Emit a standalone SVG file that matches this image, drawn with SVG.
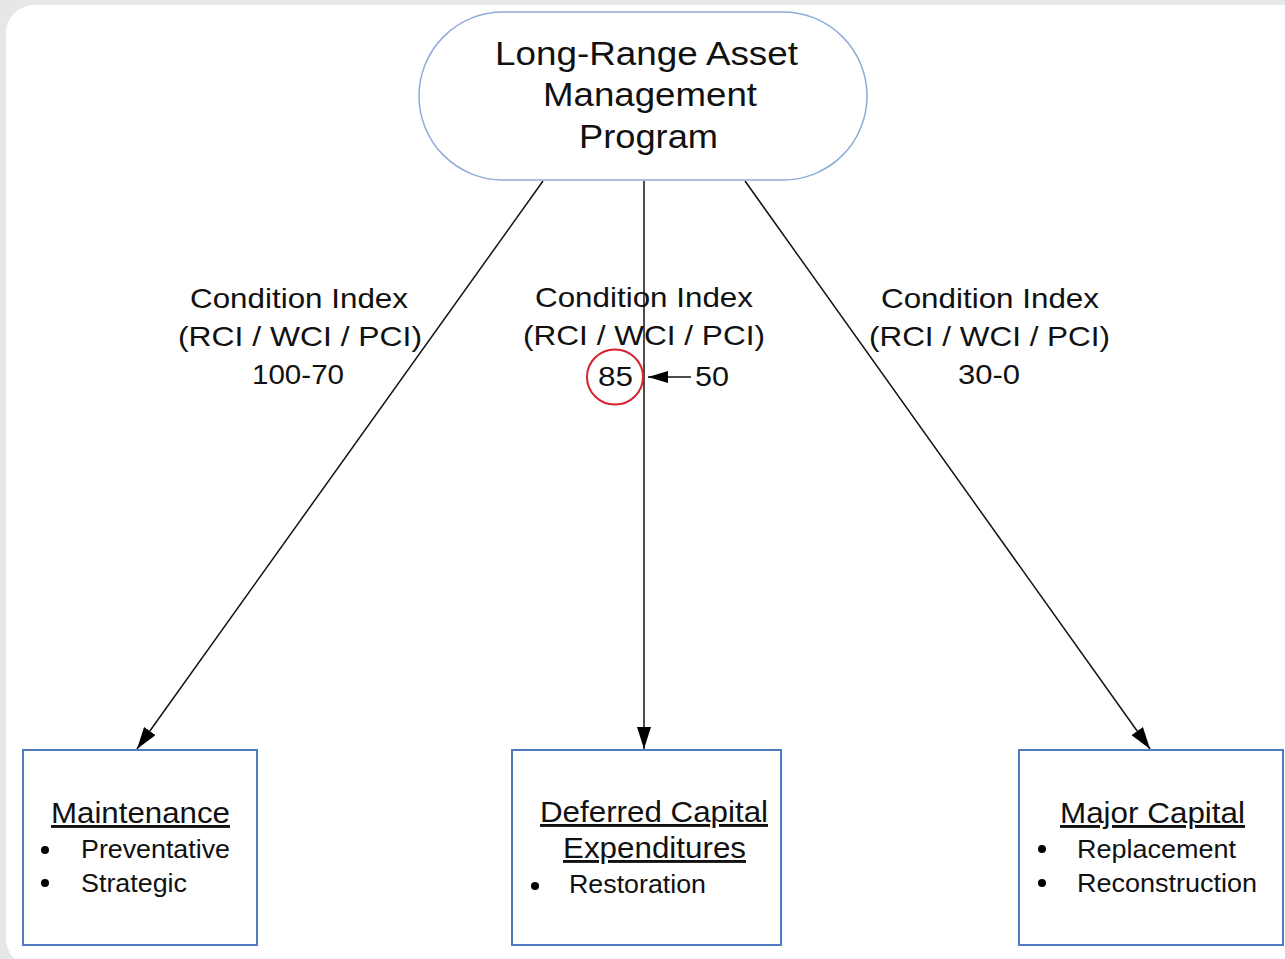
<svg xmlns="http://www.w3.org/2000/svg" width="1285" height="959" viewBox="0 0 1285 959">
<style>
text{font-family:"Liberation Sans",Arial,sans-serif;fill:#111}
.t{font-size:34px}
.lbl{font-size:28px}
.bt{font-size:29px;text-decoration:underline}
.bl{font-size:26px}
.box{fill:#fff;stroke:#4f79c0;stroke-width:2}
.con{stroke:#111;stroke-width:1.5;fill:none}
</style>
<defs>
<marker id="ah" markerWidth="22" markerHeight="14" refX="22" refY="7" orient="auto" markerUnits="userSpaceOnUse"><path d="M0,0 L22,7 L0,14 z" fill="#000"/></marker>
<marker id="ahs" markerWidth="20" markerHeight="12" refX="20" refY="6" orient="auto" markerUnits="userSpaceOnUse"><path d="M0,0 L20,6 L0,12 z" fill="#000"/></marker>
</defs>
<rect x="0" y="0" width="1285" height="959" fill="#e6e7e8"/>
<rect x="6" y="5" width="1310" height="962" rx="28" fill="#fff"/>

<g id="connectors">
<line class="con" x1="543" y1="181" x2="137" y2="749" marker-end="url(#ah)"/>
<line class="con" x1="644" y1="181" x2="644" y2="749" marker-end="url(#ah)"/>
<line class="con" x1="745" y1="181" x2="1150" y2="749" marker-end="url(#ah)"/>
</g>

<g id="program">
<rect x="419" y="12" width="448" height="168" rx="84" fill="none" stroke="#8eaad8" stroke-width="1.5"/>
<text class="t" x="495" y="65" textLength="303" lengthAdjust="spacingAndGlyphs">Long-Range Asset</text>
<text class="t" x="543" y="106" textLength="214" lengthAdjust="spacingAndGlyphs">Management</text>
<text class="t" x="579" y="148" textLength="139" lengthAdjust="spacingAndGlyphs">Program</text>
</g>

<g id="label-left">
<text class="lbl" x="190" y="308" textLength="218" lengthAdjust="spacingAndGlyphs">Condition Index</text>
<text class="lbl" x="178" y="346" textLength="244" lengthAdjust="spacingAndGlyphs">(RCI / WCI / PCI)</text>
<text class="lbl" x="252" y="384" textLength="92" lengthAdjust="spacingAndGlyphs">100-70</text>
</g>

<g id="label-center">
<text class="lbl" x="535" y="307" textLength="218" lengthAdjust="spacingAndGlyphs">Condition Index</text>
<text class="lbl" x="523" y="345" textLength="242" lengthAdjust="spacingAndGlyphs">(RCI / WCI / PCI)</text>
<text class="lbl" x="598" y="386" textLength="35" lengthAdjust="spacingAndGlyphs">85</text>
<ellipse cx="615" cy="377" rx="28" ry="27.5" fill="none" stroke="#d9222a" stroke-width="2"/>
<line class="con" x1="691" y1="377" x2="648" y2="377" stroke-width="2" marker-end="url(#ahs)"/>
<text class="lbl" x="695" y="386" textLength="34" lengthAdjust="spacingAndGlyphs">50</text>
</g>

<g id="label-right">
<text class="lbl" x="881" y="308" textLength="218" lengthAdjust="spacingAndGlyphs">Condition Index</text>
<text class="lbl" x="869" y="346" textLength="241" lengthAdjust="spacingAndGlyphs">(RCI / WCI / PCI)</text>
<text class="lbl" x="958" y="384" textLength="62" lengthAdjust="spacingAndGlyphs">30-0</text>
</g>

<g id="maintenance">
<rect class="box" x="23" y="750" width="234" height="195"/>
<text class="bt" x="51" y="823" textLength="179" lengthAdjust="spacingAndGlyphs">Maintenance</text>
<circle cx="45" cy="850" r="4" fill="#000"/>
<text class="bl" x="81" y="858" textLength="149" lengthAdjust="spacingAndGlyphs">Preventative</text>
<circle cx="45" cy="883" r="4" fill="#000"/>
<text class="bl" x="81" y="892" textLength="106" lengthAdjust="spacingAndGlyphs">Strategic</text>
</g>

<g id="deferred">
<rect class="box" x="512" y="750" width="269" height="195"/>
<text class="bt" x="540" y="822" textLength="228" lengthAdjust="spacingAndGlyphs">Deferred Capital</text>
<text class="bt" x="563" y="858" textLength="183" lengthAdjust="spacingAndGlyphs">Expenditures</text>
<circle cx="535" cy="886" r="4" fill="#000"/>
<text class="bl" x="569" y="893" textLength="137" lengthAdjust="spacingAndGlyphs">Restoration</text>
</g>

<g id="major">
<rect class="box" x="1019" y="750" width="264" height="195"/>
<text class="bt" x="1060" y="823" textLength="185" lengthAdjust="spacingAndGlyphs">Major Capital</text>
<circle cx="1042" cy="849" r="4" fill="#000"/>
<text class="bl" x="1077" y="858" textLength="159" lengthAdjust="spacingAndGlyphs">Replacement</text>
<circle cx="1042" cy="883" r="4" fill="#000"/>
<text class="bl" x="1077" y="892" textLength="180" lengthAdjust="spacingAndGlyphs">Reconstruction</text>
</g>
</svg>
